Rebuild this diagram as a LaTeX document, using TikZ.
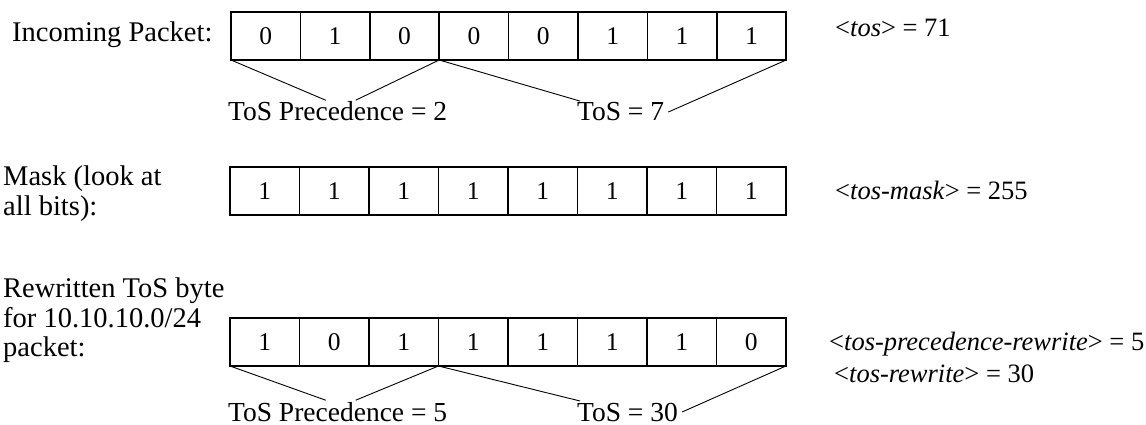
\documentclass[tikz,border=0pt]{standalone}
\usepackage{fontspec}
\setmainfont{Liberation Serif}
\usetikzlibrary{positioning,calc}

\begin{document}
\begin{tikzpicture}[
  x=1pt,y=-1pt,
  font=\fontsize{26.5}{29}\selectfont,
  bitcell/.style={rectangle,draw,line width=1.6pt,anchor=north west,minimum width=69.4pt,minimum height=48pt,inner sep=0pt,outer sep=0pt,font=\fontsize{25.5}{27}\selectfont},
  lbl/.style={anchor=base west,inner xsep=4pt,inner ysep=1.5pt,font=\fontsize{27.5}{30}\selectfont},
  side/.style={anchor=north west,align=left,inner sep=0pt,font=\fontsize{28.5}{29.5}\selectfont},
  val/.style={anchor=base west,inner sep=0pt},
  link/.style={draw,line width=0.9pt}
]
\useasboundingbox (0,0) rectangle (1146,425);

% incoming packet
\node[val,font=\fontsize{28.5}{30}\selectfont] (inlbl) at (12,42) {Incoming Packet:};
\foreach \b [count=\i] in {0,1,0,0,0,1,1,1}
  \node[bitcell] (in\i) at ({231+69.4*(\i-1)},12) {\b};
\node[val] (inval) at (835,37) {<\textit{tos}> = 71};
\node[lbl] (prec1) at (224,121) {ToS Precedence = 2};
\node[lbl] (tos1) at (573,121) {ToS = 7};
\draw[link] (in1.south west) -- ([xshift=-12pt]prec1.north);
\draw[link] ([xshift=18pt]prec1.north) -- (in4.south west);
\draw[link] (in4.south west) -- ([xshift=7pt]tos1.north west);
\draw[link] (tos1.east) -- (in8.south east);

% mask
\node[side] (mklbl) at (3,166) {Mask (look at\\all bits):};
\foreach \b [count=\i] in {1,1,1,1,1,1,1,1}
  \node[bitcell] (mk\i) at ({230+69.5*(\i-1)},167) {\b};
\node[val] (mkval) at (835,199) {<\textit{tos-mask}> = 255};

% rewritten byte
\node[side] (rwlbl) at (3,278) {Rewritten ToS byte\\for 10.10.10.0/24\\packet:};
\foreach \b [count=\i] in {1,0,1,1,1,1,1,0}
  \node[bitcell] (rw\i) at ({230+69.5*(\i-1)},318) {\b};
\node[val] (rwval1) at (829,350) {<\textit{tos-precedence-rewrite}> = 5};
\node[val] (rwval2) at (834,382) {<\textit{tos-rewrite}> = 30};
\node[lbl] (prec3) at (224,421) {ToS Precedence = 5};
\node[lbl] (tos3) at (573,421) {ToS = 30};
\draw[link] (rw1.south west) -- ([xshift=-12pt]prec3.north);
\draw[link] ([xshift=18pt]prec3.north) -- (rw4.south west);
\draw[link] (rw4.south west) -- ([xshift=7pt]tos3.north west);
\draw[link] (tos3.east) -- (rw8.south east);
\end{tikzpicture}
\end{document}
